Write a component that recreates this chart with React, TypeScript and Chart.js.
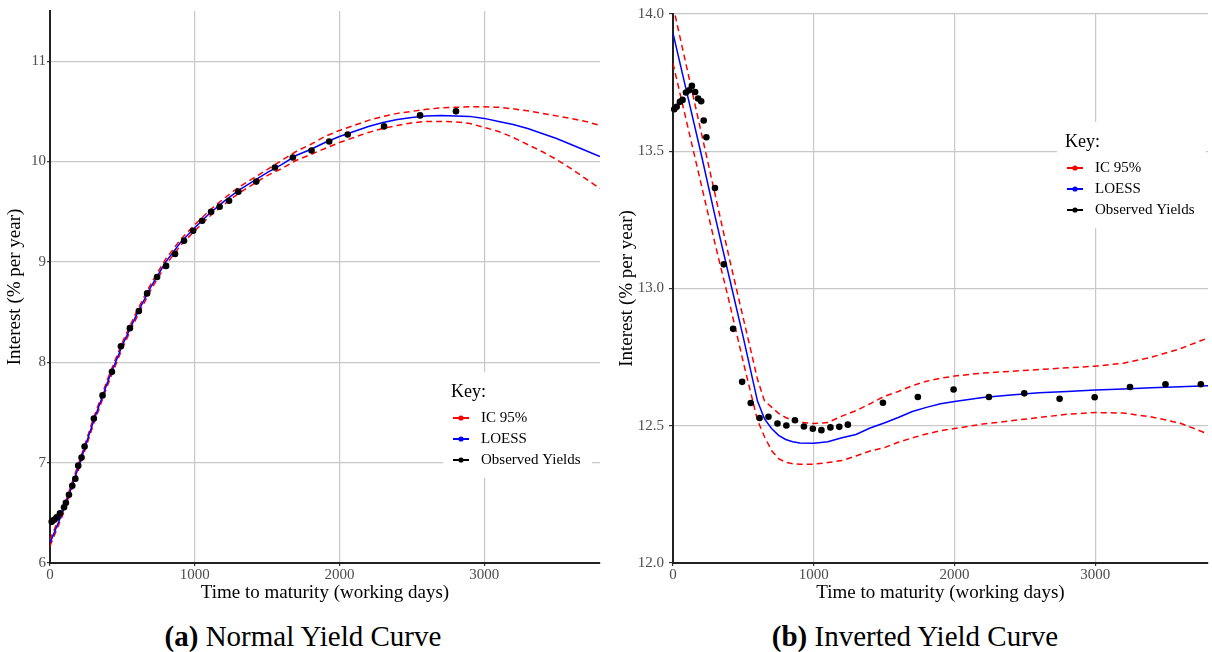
import React, { useEffect, useRef } from "react";
import { Chart, registerables } from "chart.js";

Chart.register(...registerables);

const FONT = "'Liberation Serif', 'Times New Roman', Times, serif";

// ---------- Shared text ----------
const xTitle = "Time to maturity (working days)";
const yTitle = "Interest (% per year)";
const keyTitle = "Key:";
const legendLabels = ["IC 95%", "LOESS", "Observed Yields"];
const legendColors = ["#ff0000", "#0000ff", "#000000"];
const xTickValues = [0, 1000, 2000, 3000];
const xTickLabels = ["0", "1000", "2000", "3000"];

// ---------- Panel (a): Normal yield curve ----------
const obsDaysA = [12, 28, 46, 69, 97, 110, 131, 154, 175, 195, 218, 239, 303, 363, 428, 490, 552, 614, 671, 740, 802, 864, 926, 989, 1051, 1113, 1172, 1237, 1301, 1425, 1554, 1678, 1807, 1929, 2057, 2308, 2557, 2805];
const obsYieldA = [6.41, 6.43, 6.455, 6.495, 6.555, 6.6, 6.68, 6.77, 6.84, 6.97, 7.05, 7.16, 7.44, 7.67, 7.905, 8.16, 8.34, 8.51, 8.686, 8.85, 8.96, 9.08, 9.21, 9.31, 9.41, 9.5, 9.55, 9.61, 9.7, 9.8, 9.94, 10.04, 10.11, 10.2, 10.27, 10.35, 10.46, 10.5];
const curveDaysA = [0, 100, 200, 300, 400, 500, 600, 700, 800, 900, 1000, 1100, 1200, 1300, 1400, 1500, 1600, 1700, 1800, 1900, 2000, 2100, 2200, 2300, 2400, 2500, 2600, 2700, 2800, 2900, 3000, 3100, 3200, 3300, 3400, 3500, 3600, 3700, 3800];
const loessA = [6.2, 6.55, 6.97, 7.41, 7.81, 8.17, 8.48, 8.76, 9.0, 9.19, 9.34, 9.48, 9.6, 9.71, 9.8, 9.89, 9.97, 10.06, 10.12, 10.19, 10.25, 10.3, 10.35, 10.39, 10.42, 10.44, 10.455, 10.46, 10.455, 10.45, 10.43, 10.4, 10.37, 10.33, 10.28, 10.23, 10.17, 10.11, 10.05];
const upperA = [6.23, 6.58, 7.0, 7.44, 7.84, 8.2, 8.51, 8.79, 9.03, 9.22, 9.37, 9.51, 9.63, 9.74, 9.83, 9.92, 10.01, 10.1, 10.17, 10.25, 10.31, 10.36, 10.41, 10.45, 10.48, 10.5, 10.52, 10.535, 10.54, 10.545, 10.545, 10.54, 10.525, 10.505, 10.48, 10.455, 10.43, 10.4, 10.36];
const lowerA = [6.17, 6.52, 6.94, 7.38, 7.78, 8.14, 8.45, 8.73, 8.97, 9.16, 9.31, 9.45, 9.57, 9.68, 9.77, 9.86, 9.93, 10.01, 10.07, 10.13, 10.19, 10.24, 10.29, 10.33, 10.36, 10.385, 10.4, 10.4, 10.395, 10.38, 10.34, 10.3, 10.24, 10.17, 10.1, 10.02, 9.93, 9.83, 9.73];
const yTickValuesA = [6, 7, 8, 9, 10, 11];
const yTickLabelsA = ["6", "7", "8", "9", "10", "11"];

// ---------- Panel (b): Inverted yield curve ----------
const obsDaysB = [9, 26, 49, 68, 92, 115, 134, 157, 178, 200, 218, 237, 298, 361, 427, 491, 552, 615, 678, 742, 805, 866, 930, 993, 1054, 1118, 1181, 1242, 1491, 1739, 1993, 2244, 2495, 2746, 2995, 3246, 3498, 3749];
const obsYieldB = [13.653, 13.662, 13.68, 13.687, 13.714, 13.722, 13.738, 13.716, 13.692, 13.682, 13.612, 13.551, 13.366, 13.088, 12.853, 12.66, 12.583, 12.528, 12.533, 12.508, 12.501, 12.52, 12.497, 12.489, 12.484, 12.494, 12.496, 12.504, 12.584, 12.605, 12.632, 12.605, 12.618, 12.598, 12.604, 12.641, 12.651, 12.651];
const curveDaysB = [0, 100, 200, 300, 400, 500, 600, 650, 700, 750, 800, 850, 900, 1000, 1100, 1200, 1300, 1400, 1500, 1600, 1700, 1800, 1900, 2000, 2200, 2400, 2600, 2800, 3000, 3200, 3400, 3600, 3800];
const loessB = [13.93, 13.71, 13.49, 13.26, 13.04, 12.82, 12.59, 12.525, 12.49, 12.465, 12.45, 12.442, 12.437, 12.436, 12.442, 12.456, 12.468, 12.492, 12.51, 12.53, 12.552, 12.567, 12.58, 12.588, 12.603, 12.612, 12.62, 12.625, 12.63, 12.634, 12.638, 12.642, 12.646];
const upperB = [14.03, 13.8, 13.57, 13.34, 13.11, 12.89, 12.67, 12.59, 12.568, 12.545, 12.53, 12.52, 12.513, 12.508, 12.512, 12.535, 12.555, 12.58, 12.607, 12.625, 12.646, 12.662, 12.673, 12.681, 12.692, 12.698, 12.705, 12.711, 12.717, 12.728, 12.75, 12.78, 12.82];
const lowerB = [13.82, 13.6, 13.38, 13.16, 12.95, 12.73, 12.52, 12.46, 12.41, 12.38, 12.367, 12.362, 12.36, 12.36, 12.366, 12.373, 12.39, 12.408, 12.42, 12.44, 12.456, 12.47, 12.482, 12.49, 12.506, 12.518, 12.53, 12.542, 12.548, 12.546, 12.532, 12.51, 12.47];
const yTickValuesB = [12, 12.5, 13, 13.5, 14];
const yTickLabelsB = ["12.0", "12.5", "13.0", "13.5", "14.0"];

const toXY = (xs: number[], ys: number[]) => xs.map((x, i) => ({ x, y: ys[i] }));

const keyLegendPlugin = {
  id: "keyLegend",
  afterDraw(chart: any, _args: any, opts: any) {
    const ctx = chart.ctx as CanvasRenderingContext2D;
    const left = opts.left;
    const top = opts.top;
    ctx.save();
    ctx.fillStyle = "#ffffff";
    ctx.fillRect(left, top, 149, 106);
    ctx.textBaseline = "middle";
    ctx.textAlign = "left";
    ctx.fillStyle = "#000000";
    ctx.font = `18px ${FONT}`;
    ctx.fillText(keyTitle, left + 8, top + 20);
    ctx.font = `15px ${FONT}`;
    legendLabels.forEach((lab, i) => {
      const y = top + 46 + i * 21;
      ctx.strokeStyle = legendColors[i];
      ctx.lineWidth = 2;
      ctx.beginPath();
      ctx.moveTo(left + 10, y);
      ctx.lineTo(left + 26, y);
      ctx.stroke();
      ctx.fillStyle = legendColors[i];
      ctx.beginPath();
      ctx.arc(left + 18, y, 2.6, 0, Math.PI * 2);
      ctx.fill();
      ctx.fillStyle = "#000000";
      ctx.fillText(lab, left + 38, y);
    });
    ctx.restore();
  },
};

type PanelProps = {
  left: number;
  width: number;
  obsX: number[];
  obsY: number[];
  curveX: number[];
  loess: number[];
  upper: number[];
  lower: number[];
  yMin: number;
  yMax: number;
  yTicks: number[];
  yLabels: string[];
  axisWidth: number;
  padRight: number;
  yTickPad: number;
  yTickLen: number;
  yTitlePad: number;
  legendLeft: number;
  legendTop: number;
};

function Panel(p: PanelProps) {
  const ref = useRef<HTMLCanvasElement | null>(null);
  useEffect(() => {
    if (!ref.current) return;
    const tickFont = { family: FONT, size: 15 };
    const titleFont = { family: FONT, size: 19 };
    const chart = new Chart(ref.current, {
      type: "scatter",
      data: {
        datasets: [
          {
            label: "Observed Yields",
            data: toXY(p.obsX, p.obsY),
            showLine: false,
            pointRadius: 3.3,
            pointBackgroundColor: "#000000",
            pointBorderWidth: 0,
            clip: false,
          },
          {
            label: "LOESS",
            data: toXY(p.curveX, p.loess),
            showLine: true,
            borderColor: "#0000ff",
            borderWidth: 1.5,
            pointRadius: 0,
            clip: 0,
          },
          {
            label: "IC 95%",
            data: toXY(p.curveX, p.upper),
            showLine: true,
            borderColor: "#ff0000",
            borderWidth: 1.5,
            borderDash: [6, 4],
            pointRadius: 0,
            clip: 0,
          },
          {
            label: "IC 95%",
            data: toXY(p.curveX, p.lower),
            showLine: true,
            borderColor: "#ff0000",
            borderWidth: 1.5,
            borderDash: [6, 4],
            pointRadius: 0,
            clip: 0,
          },
        ],
      } as any,
      options: {
        animation: false,
        responsive: false,
        maintainAspectRatio: false,
        layout: { padding: { top: 11, right: p.padRight, bottom: 8, left: 0 } },
        plugins: {
          legend: { display: false },
          tooltip: { enabled: false },
          keyLegend: { left: p.legendLeft, top: p.legendTop },
        } as any,
        scales: {
          x: {
            type: "linear",
            min: 0,
            max: 3800,
            afterFit: (s: any) => {
              s.height = 41;
            },
            afterBuildTicks: (s: any) => {
              s.ticks = xTickValues.map((v) => ({ value: v }));
            },
            ticks: {
              color: "#4d4d4d",
              font: tickFont,
              padding: 0,
              maxRotation: 0,
              callback: (_v: any, i: number) => xTickLabels[i],
            },
            grid: { color: "#c8c8c8", lineWidth: 1.2, tickLength: 3, tickColor: "#333333" },
            border: { color: "#222222", width: 2 },
            title: { display: true, text: xTitle, color: "#000000", font: titleFont, padding: { top: 0, bottom: 0 } },
          },
          y: {
            type: "linear",
            min: p.yMin,
            max: p.yMax,
            afterFit: (s: any) => {
              s.width = p.axisWidth;
            },
            afterBuildTicks: (s: any) => {
              s.ticks = p.yTicks.map((v) => ({ value: v }));
            },
            ticks: {
              color: "#4d4d4d",
              font: tickFont,
              padding: p.yTickPad,
              callback: (_v: any, i: number) => p.yLabels[i],
            },
            grid: { color: "#c8c8c8", lineWidth: 1.2, tickLength: p.yTickLen, tickColor: "#333333" },
            border: { color: "#222222", width: 2 },
            title: { display: true, text: yTitle, color: "#000000", font: titleFont, padding: { top: p.yTitlePad, bottom: 0 } },
          },
        },
      } as any,
      plugins: [keyLegendPlugin],
    });
    return () => chart.destroy();
  }, []);
  return (
    <canvas
      ref={ref}
      width={p.width}
      height={612}
      style={{ position: "absolute", left: p.left, top: 0, width: p.width, height: 612 }}
    />
  );
}

export default function App() {
  const captionStyle: React.CSSProperties = {
    position: "absolute",
    top: 620,
    width: 400,
    textAlign: "center",
    fontFamily: FONT,
    fontSize: 29,
    lineHeight: "32px",
    color: "#000000",
    whiteSpace: "nowrap",
  };
  return (
    <div style={{ position: "absolute", left: 0, top: 0, width: 1212, height: 652, background: "#ffffff", overflow: "hidden" }}>
      <Panel
        left={0}
        width={606}
        obsX={obsDaysA}
        obsY={obsYieldA}
        curveX={curveDaysA}
        loess={loessA}
        upper={upperA}
        lower={lowerA}
        yMin={6}
        yMax={11.5}
        yTicks={yTickValuesA}
        yLabels={yTickLabelsA}
        axisWidth={50}
        padRight={6}
        yTickPad={1}
        yTickLen={3}
        yTitlePad={4}
        legendLeft={443}
        legendTop={372}
      />
      <Panel
        left={606}
        width={606}
        obsX={obsDaysB}
        obsY={obsYieldB}
        curveX={curveDaysB}
        loess={loessB}
        upper={upperB}
        lower={lowerB}
        yMin={12}
        yMax={14}
        yTicks={yTickValuesB}
        yLabels={yTickLabelsB}
        axisWidth={67}
        padRight={0}
        yTickPad={5}
        yTickLen={4}
        yTitlePad={10}
        legendLeft={451}
        legendTop={122}
      />
      <div style={{ ...captionStyle, left: 103 }}>
        <b>(a)</b> Normal Yield Curve
      </div>
      <div style={{ ...captionStyle, left: 715 }}>
        <b>(b)</b> Inverted Yield Curve
      </div>
    </div>
  );
}
